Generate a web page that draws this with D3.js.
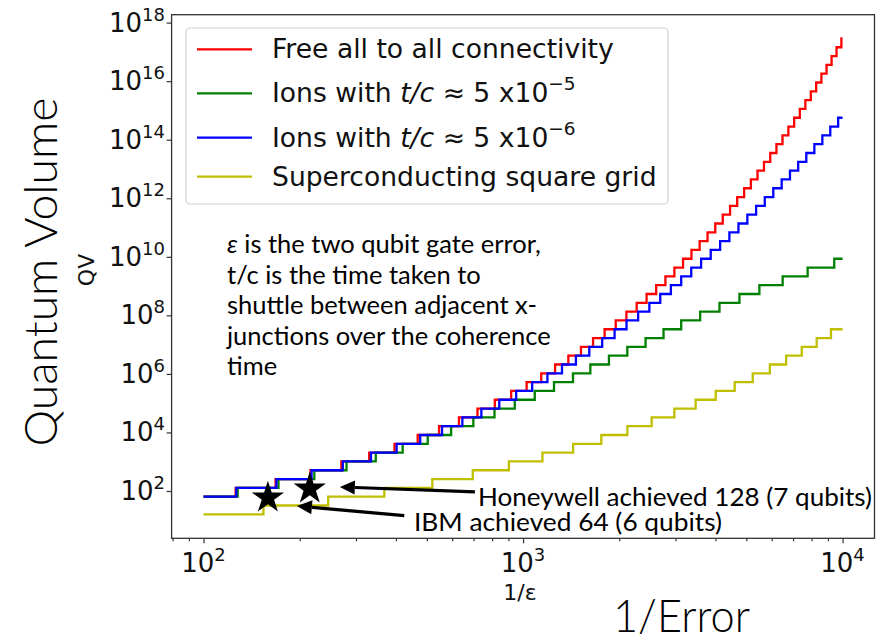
<!DOCTYPE html>
<html><head><meta charset="utf-8">
<script src="https://cdn.jsdelivr.net/npm/d3@7"></script>
<style>body{margin:0;background:#fff}svg{display:block}</style>
</head><body>
<svg id="c" width="878" height="640"></svg>
<script>
// ---------- DATA ----------
const xStart = 100, xEnd = 10000;
const xTickValues = [100, 1000, 10000];
const xTickExps = ["2", "3", "4"];
const xMinorTicks = [80, 90, 200, 300, 400, 500, 600, 700, 800, 900, 2000, 3000, 4000, 5000, 6000, 7000, 8000, 9000];
const yTickValues = [1e2, 1e4, 1e6, 1e8, 1e10, 1e12, 1e14, 1e16, 1e18];
const yTickExps = ["2", "4", "6", "8", "10", "12", "14", "16", "18"];

// each series: starting number of qubits at 1/eps = 100, then the 1/eps values where one more qubit is reached (QV = 2^n)
const redStart = 6;
const redSteps = [126, 168, 216, 270, 330, 396, 468, 546, 630, 720, 816, 918, 1026, 1140, 1260, 1386, 1518, 1656, 1800, 1950, 2106, 2268, 2436, 2610, 2790, 2976, 3168, 3366, 3570, 3780, 3996, 4218, 4446, 4680, 4920, 5166, 5418, 5676, 5940, 6210, 6486, 6768, 7056, 7350, 7650, 7956, 8268, 8586, 8910, 9240, 9576, 9918];
const greenStart = 6;
const greenSteps = [127.9, 171.6, 222.2, 280.2, 345.9, 420.0, 503.0, 595.6, 699.0, 814.0, 942, 1088, 1250, 1433, 1624, 1857, 2120, 2418, 2752, 3126, 3584, 4119, 4756, 5492, 6494, 7775, 9420];
const blueStart = 6;
const blueSteps = [126.6, 169.1, 217.8, 272.8, 334.2, 402.1, 476.6, 557.7, 645.7, 740.5, 842.5, 951.6, 1068, 1192, 1324, 1464, 1612, 1769, 1934, 2108, 2292, 2485, 2688, 2902, 3126, 3361, 3608, 3867, 4139, 4424, 4723, 5036, 5364, 5709, 6070, 6449, 6846, 7263, 7701, 8161, 8645, 9153, 9688];
const yellowStart = 4;
const yellowSteps = [154, 245.6, 368, 520, 696, 902.9, 1150, 1435, 1758, 2121, 2527, 2976, 3469, 4009, 4597, 5234, 5921, 6660, 7452, 8299, 9200];

const seriesNames = ["Free all to all connectivity", "Ions with t/c \u2248 5 x10^\u22125", "Ions with t/c \u2248 5 x10^\u22126", "Superconducting square grid"];
const seriesColors = ["#ff0000", "#008000", "#0000ff", "#bfbf00"];

// achieved points: [1/eps, QV]
const achievedIBM = [159, 64];
const achievedHoneywell = [215, 128];
const noteHoneywell = "Honeywell achieved 128 (7 qubits)";
const noteIBM = "IBM achieved 64 (6 qubits)";
const noteLines = ["\u03b5 is the two qubit gate error,", "t/c is the time taken to", "shuttle between adjacent x-", "junctions over the coherence", "time"];

// ---------- CHART ----------
const svg = d3.select("#c");
const x = d3.scaleLog().domain([Math.pow(10, 1.9), Math.pow(10, 4.1)]).range([171.6, 874.5]);
const y = d3.scaleLog().domain([Math.pow(10, 0.384), Math.pow(10, 18.27)]).range([538.3, 14.7]);

function stepPoints(start, steps) {
  const pts = [[xStart, start]];
  let n = start;
  steps.forEach(s => { pts.push([s, n]); n += 1; pts.push([s, n]); });
  pts.push([xEnd, n]);
  return pts;
}
const series = [
  { pts: stepPoints(redStart, redSteps), color: seriesColors[0] },
  { pts: stepPoints(greenStart, greenSteps), color: seriesColors[1] },
  { pts: stepPoints(blueStart, blueSteps), color: seriesColors[2] },
  { pts: stepPoints(yellowStart, yellowSteps), color: seriesColors[3] }
];
const line = d3.line().x(d => x(d[0])).y(d => y(Math.pow(2, d[1])));

const plot = svg.append("g");
plot.selectAll("path.s").data(series).join("path")
  .attr("class", "s").attr("d", d => line(d.pts))
  .attr("fill", "none").attr("stroke", d => d.color)
  .attr("stroke-width", 2.3).attr("stroke-linejoin", "miter");

// frame
const [x0, x1] = x.range(), [y0, y1] = y.range();
svg.append("rect").attr("x", x0).attr("y", y1).attr("width", x1 - x0).attr("height", y0 - y1)
  .attr("fill", "none").attr("stroke", "#333").attr("stroke-width", 1.3);

// axes ticks
const gx = svg.append("g").attr("transform", `translate(0,${y0})`);
gx.call(d3.axisBottom(x).tickValues(xTickValues).tickSize(5).tickFormat(""));
const gxm = svg.append("g").attr("transform", `translate(0,${y0})`);
gxm.call(d3.axisBottom(x).tickValues(xMinorTicks).tickSize(3).tickFormat(""));
const gy = svg.append("g").attr("transform", `translate(${x0},0)`);
gy.call(d3.axisLeft(y).tickValues(yTickValues).tickSize(5).tickFormat(""));
svg.selectAll(".domain").remove();
svg.selectAll(".tick line").attr("stroke", "#333").attr("stroke-width", 1.2);

const tickFont = "DejaVu Sans";
xTickValues.forEach((v, i) => {
  const t = svg.append("text").attr("x", x(v)).attr("y", 572).attr("text-anchor", "middle")
    .attr("font-family", tickFont).attr("font-size", 26).attr("fill", "#111");
  t.append("tspan").text("10");
  t.append("tspan").attr("dy", -11).attr("font-size", 18).text(xTickExps[i]);
});
yTickValues.forEach((v, i) => {
  const t = svg.append("text").attr("x", 165).attr("y", y(v) + 9).attr("text-anchor", "end")
    .attr("font-family", tickFont).attr("font-size", 26).attr("fill", "#111");
  t.append("tspan").text("10");
  t.append("tspan").attr("dy", -11).attr("font-size", 18).text(yTickExps[i]);
});

// axis labels
svg.append("text").attr("x", 520).attr("y", 600).attr("text-anchor", "middle")
  .attr("font-family", tickFont).attr("font-size", 22).attr("fill", "#111").text("1/\u03b5");
svg.append("text").attr("transform", "translate(94,270) rotate(-90)").attr("text-anchor", "middle")
  .attr("font-family", tickFont).attr("font-size", 22).attr("fill", "#111").text("QV");

// legend
const lg = svg.append("g");
lg.append("rect").attr("x", 186).attr("y", 28).attr("width", 482).attr("height", 176).attr("rx", 4)
  .attr("fill", "#fff").attr("fill-opacity", 0.85).attr("stroke", "#d0d0d0").attr("stroke-width", 1.2);
const legendY = [49.3, 93.3, 137.7, 176.7];
seriesNames.forEach((name, i) => {
  lg.append("line").attr("x1", 197).attr("x2", 252).attr("y1", legendY[i]).attr("y2", legendY[i])
    .attr("stroke", seriesColors[i]).attr("stroke-width", 2.3);
  const t = lg.append("text").attr("x", 272).attr("y", legendY[i] + 9)
    .attr("font-family", tickFont).attr("font-size", 26.6).attr("fill", "#111");
  const m = name.match(/^(Ions with )(t\/c)( \u2248 5 x10)\^(.+)$/);
  if (m) {
    t.append("tspan").text(m[1]);
    t.append("tspan").attr("font-style", "italic").text(m[2]);
    t.append("tspan").text(m[3]);
    t.append("tspan").attr("dy", -12).attr("font-size", 18.5).text(m[4]);
  } else {
    t.text(name);
  }
});

// explanatory note
const noteFont = "Lato";
noteLines.forEach((s, i) => {
  const t = svg.append("text").attr("x", 227).attr("y", 253 + i * 30.6)
    .attr("font-family", noteFont).attr("font-size", 25.5).attr("fill", "#000");
  if (s.charAt(0) === "\u03b5") {
    t.append("tspan").attr("font-style", "italic").text("\u03b5");
    t.append("tspan").text(s.slice(1));
  } else {
    t.text(s);
  }
});

// stars
const starPath = (cx, cy, R) => {
  const r = R * 0.382; const p = [];
  for (let k = 0; k < 10; k++) {
    const a = -Math.PI / 2 + k * Math.PI / 5; const rr = k % 2 ? r : R;
    p.push([cx + rr * Math.cos(a), cy + rr * Math.sin(a)]);
  }
  return "M" + p.map(q => q.join(",")).join("L") + "Z";
};
[achievedIBM, achievedHoneywell].forEach(d => {
  svg.append("path").attr("d", starPath(x(d[0]), y(d[1]) + 1, 17)).attr("fill", "#000");
});

// arrows
function arrow(tail, tip) {
  const tx = x(tail[0]), ty = y(tail[1]), hx = x(tip[0]), hy = y(tip[1]);
  const ang = Math.atan2(hy - ty, hx - tx), L = 15, Wd = 7;
  const bx = hx - L * Math.cos(ang), by = hy - L * Math.sin(ang);
  svg.append("line").attr("x1", tx).attr("y1", ty).attr("x2", bx).attr("y2", by)
    .attr("stroke", "#000").attr("stroke-width", 3.2);
  const px = -Math.sin(ang), py = Math.cos(ang);
  svg.append("path").attr("d", `M${hx},${hy}L${bx + px * Wd},${by + py * Wd}L${bx - px * Wd},${by - py * Wd}Z`).attr("fill", "#000");
}
arrow([707, 94], [267, 137]);
arrow([425, 14.5], [196, 30.7]);

svg.append("text").attr("x", 478).attr("y", 506).attr("font-family", noteFont).attr("font-size", 25)
  .attr("textLength", 394).attr("lengthAdjust", "spacingAndGlyphs").text(noteHoneywell);
svg.append("text").attr("x", 414).attr("y", 531).attr("font-family", noteFont).attr("font-size", 25)
  .attr("textLength", 308).attr("lengthAdjust", "spacingAndGlyphs").text(noteIBM);

// big labels
svg.append("text").attr("transform", "translate(57,272) rotate(-90)").attr("text-anchor", "middle")
  .attr("font-family", noteFont).attr("font-weight", 300).attr("font-size", 46)
  .attr("textLength", 349).attr("lengthAdjust", "spacingAndGlyphs").text("Quantum Volume");
svg.append("text").attr("x", 613).attr("y", 632).attr("font-family", noteFont).attr("font-weight", 300).attr("font-size", 45)
  .attr("textLength", 137).attr("lengthAdjust", "spacingAndGlyphs").text("1/Error");
</script>
</body></html>
